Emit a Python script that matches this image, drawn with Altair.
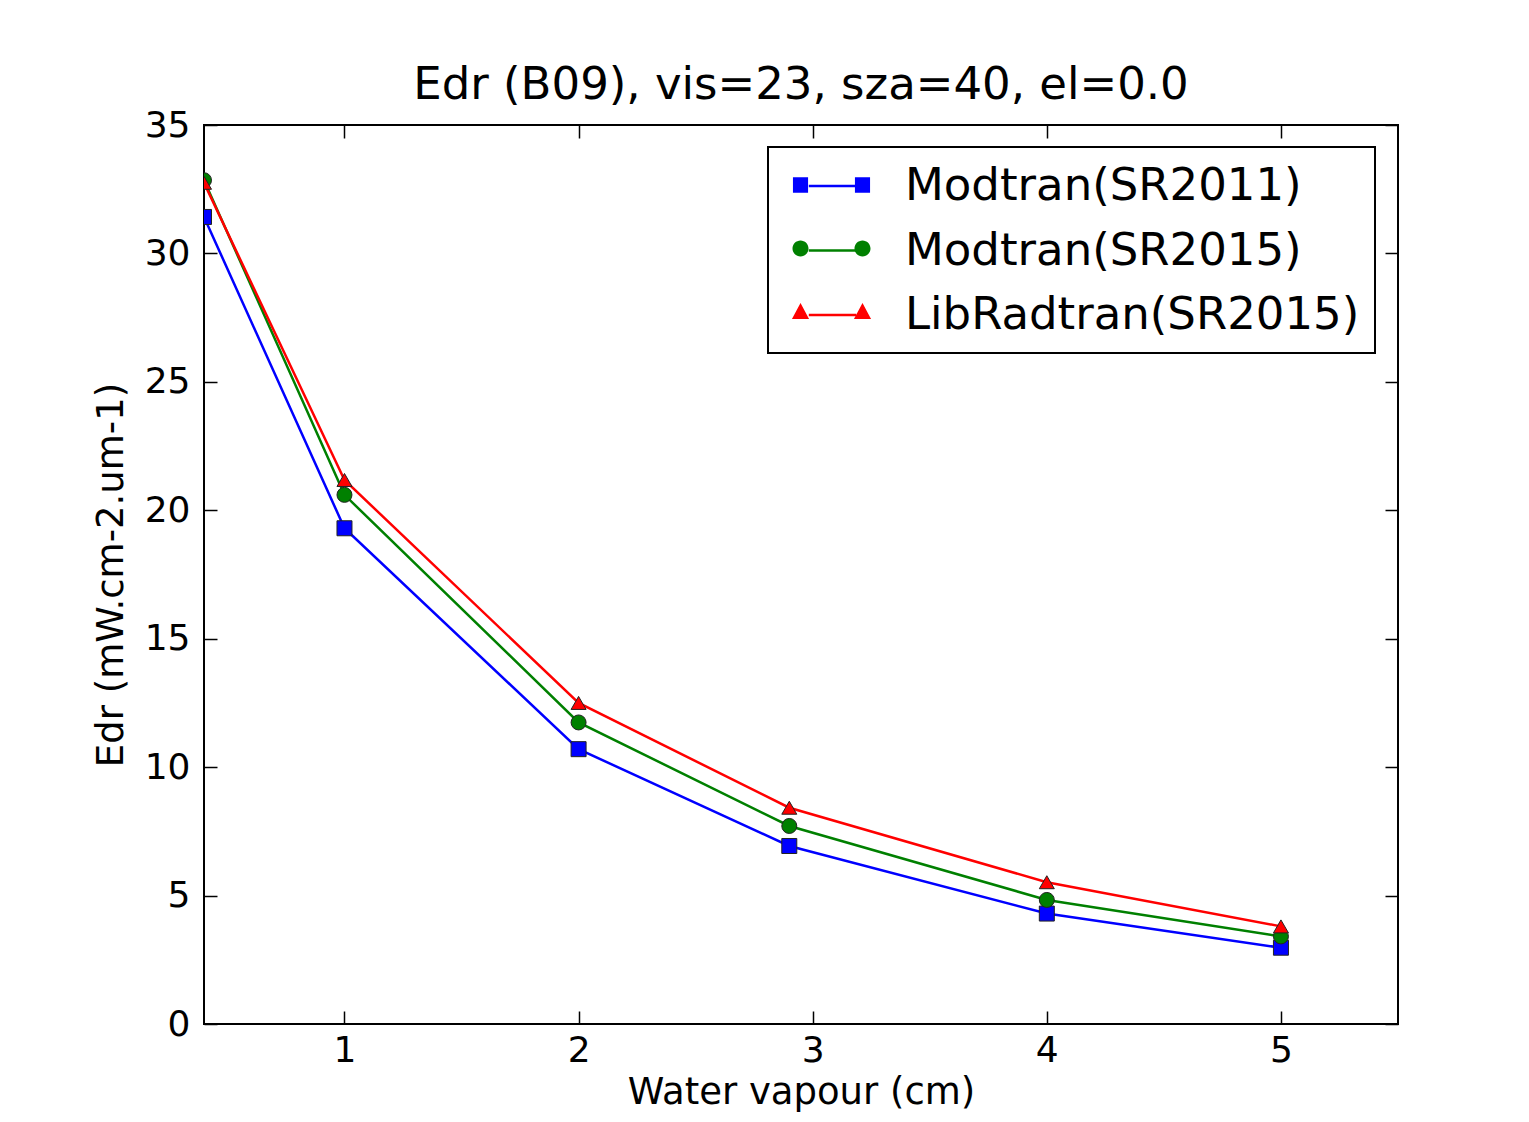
import altair as alt
import pandas as pd

# ---- data ----
water = [0.4, 1, 2, 2.9, 4, 5]
modtran_sr2011 = [31.42, 19.3, 10.7, 6.93, 4.3, 2.97]
modtran_sr2015 = [32.85, 20.6, 11.74, 7.71, 4.83, 3.41]
libradtran_sr2015 = [32.75, 21.18, 12.5, 8.42, 5.52, 3.8]
series_names = ["Modtran(SR2011)", "Modtran(SR2015)", "LibRadtran(SR2015)"]
series_colors = ["#0000ff", "#008000", "#ff0000"]
series_shapes = ["square", "circle", "triangle-up"]
x_ticks = [1, 2, 3, 4, 5]
y_ticks = [0, 5, 10, 15, 20, 25, 30, 35]

rows = []
for name, vals in zip(series_names, [modtran_sr2011, modtran_sr2015, libradtran_sr2015]):
    for xv, yv in zip(water, vals):
        rows.append({"series": name, "water": xv, "edr": yv})
df = pd.DataFrame(rows)

FONT = "DejaVu Sans"

# legend symbol styles (line segment with a marker at each end, matplotlib-like)
legend_line_path = "M0.08,0L2.19,0"
legend_marker_paths = [
    "M-0.58,-0.34L0.092,-0.34L0.092,0.34L-0.58,0.34Z M2.175,-0.34L2.847,-0.34L2.847,0.34L2.175,0.34Z",
    "M-0.6,0A0.356,0.356 0 1,1 0.112,0A0.356,0.356 0 1,1 -0.6,0Z M2.155,0A0.356,0.356 0 1,1 2.867,0A0.356,0.356 0 1,1 2.155,0Z",
    "M-0.244,-0.4L0.136,0.31L-0.624,0.31Z M2.511,-0.4L2.891,0.31L2.131,0.31Z",
]

xscale = alt.Scale(domain=[0.4, 5.5], nice=False, zero=False)
yscale = alt.Scale(domain=[0, 35], nice=False, zero=False)

legend_common = dict(
    orient="none", legendX=564, legendY=22, padding=15, rowPadding=17.5,
    labelOffset=74, labelFontSize=45, labelFont=FONT, labelColor="black",
    labelLimit=1000, title=None, symbolSize=2025, direction="vertical",
)

# axis with labels and titles
ax_x_lab = alt.Axis(orient="bottom", values=x_ticks, format="d", ticks=False, tickSize=0,
                    domain=False, grid=False, labelFontSize=36, labelFont=FONT,
                    labelColor="black", labelPadding=9, title="Water vapour (cm)",
                    titleFontSize=37, titleFont=FONT, titleFontWeight="normal",
                    titleColor="black", titlePadding=6)
ax_y_lab = alt.Axis(orient="left", values=y_ticks, format="d", ticks=False, tickSize=0,
                    domain=False, grid=False, labelFontSize=36, labelFont=FONT,
                    labelColor="black", labelPadding=14, title="Edr (mW.cm-2.um-1)",
                    titleFontSize=37, titleFont=FONT, titleFontWeight="normal",
                    titleColor="black", titlePadding=14)

def tick_axis(orient, values):
    return alt.Axis(orient=orient, values=values, ticks=True, tickSize=13, tickWidth=1.5,
                    tickColor="black", labels=False, domain=False, grid=False,
                    offset=-13, title=None)

# lines
lines = alt.Chart(df).mark_line(strokeWidth=2.5, clip=True).encode(
    x=alt.X("water:Q", scale=xscale, axis=ax_x_lab),
    y=alt.Y("edr:Q", scale=yscale, axis=ax_y_lab),
    stroke=alt.Stroke("series:N", scale=alt.Scale(domain=series_names, range=series_colors),
                      legend=alt.Legend(symbolType=legend_line_path, symbolStrokeWidth=2.5,
                                        strokeColor="black", **legend_common)),
    order="water:Q",
)

# markers
points = alt.Chart(df).mark_point(filled=True, size=225, stroke="#222222", strokeWidth=1,
                                  opacity=1, clip=True).encode(
    x=alt.X("water:Q", scale=xscale, axis=tick_axis("bottom", x_ticks)),
    y=alt.Y("edr:Q", scale=yscale, axis=tick_axis("left", y_ticks)),
    fill=alt.Fill("series:N", scale=alt.Scale(domain=series_names, range=series_colors), legend=None),
    shape=alt.Shape("series:N", scale=alt.Scale(domain=series_names, range=series_shapes), legend=None),
)

# legend markers (no data drawn)
marker_legend = alt.Legend(symbolStrokeColor="#222222", symbolStrokeWidth=1, labelOpacity=0,
                           **legend_common)
legend_marks = alt.Chart(df).transform_filter("datum.edr < -1000").mark_point(
    filled=True, stroke="#222222", strokeWidth=1, opacity=1).encode(
    x=alt.X("water:Q", scale=xscale, axis=tick_axis("top", x_ticks)),
    y=alt.Y("edr:Q", scale=yscale, axis=tick_axis("right", y_ticks)),
    fill=alt.Fill("series:N", scale=alt.Scale(domain=series_names, range=series_colors), legend=marker_legend),
    shape=alt.Shape("series:N", scale=alt.Scale(domain=series_names, range=legend_marker_paths), legend=marker_legend),
)

chart = alt.layer(lines, points, legend_marks).resolve_scale(
    fill="independent", shape="independent"
).resolve_axis(
    x="independent", y="independent"
).properties(
    width=1194, height=899,
    autosize=alt.AutoSizeParams(type="none"),
    padding={"left": 196, "top": 117, "right": 100, "bottom": 90},
    background="white",
    title=alt.TitleParams("Edr (B09), vis=23, sza=40, el=0.0", fontSize=45, font=FONT,
                          fontWeight="normal", color="black", anchor="middle",
                          frame="group", baseline="alphabetic", offset=-37),
).configure_view(stroke="black", strokeWidth=2).configure_legend(strokeWidth=2)

chart.save("out.html", embed_options={"renderer": "svg", "actions": False})
